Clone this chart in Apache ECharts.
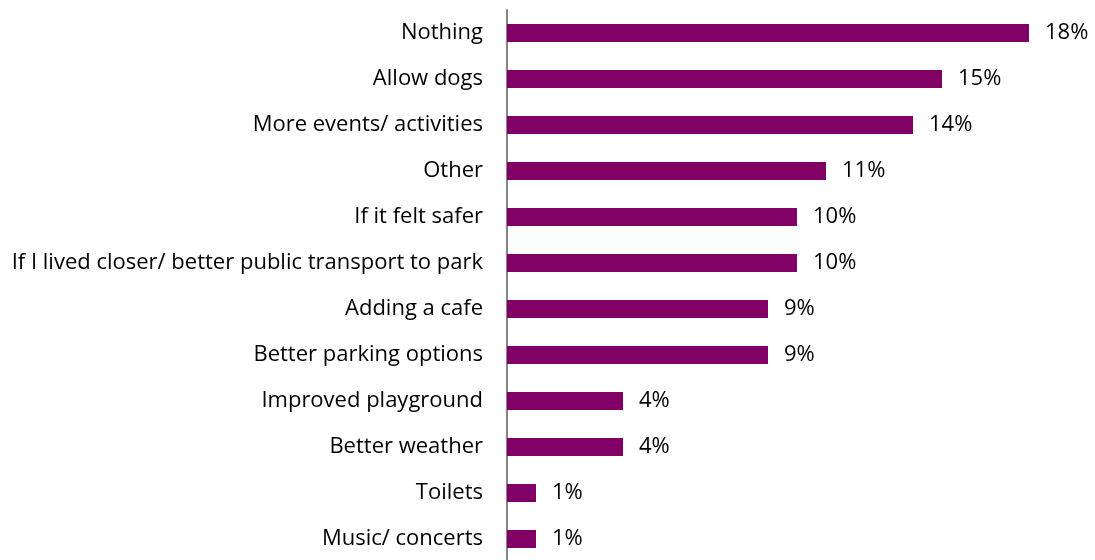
<!DOCTYPE html>
<html>
<head>
<meta charset="utf-8">
<script src="https://cdn.jsdelivr.net/npm/echarts@6/dist/echarts.min.js"></script>
<style>
  html, body { margin: 0; padding: 0; background: #fff; overflow: hidden; }
  #chart { width: 1095px; height: 566px; }
</style>
</head>
<body>
<div id="chart"></div>
<script>
// Reasons that would encourage more park visits (share of respondents, %)
const categories = [
  'Nothing',
  'Allow dogs',
  'More events/ activities',
  'Other',
  'If it felt safer',
  'If I lived closer/ better public transport to park',
  'Adding a cafe',
  'Better parking options',
  'Improved playground',
  'Better weather',
  'Toilets',
  'Music/ concerts'
];
const shares = [18, 15, 14, 11, 10, 10, 9, 9, 4, 4, 1, 1];

const FONT = '"Open Sans", sans-serif';

const chart = echarts.init(document.getElementById('chart'), null, { renderer: 'canvas' });
chart.setOption({
  animation: false,
  backgroundColor: '#ffffff',
  grid: { left: 507, top: 10, width: 580, height: 552, containLabel: false },
  xAxis: {
    type: 'value',
    min: 0,
    max: 20,
    show: false
  },
  yAxis: {
    type: 'category',
    data: categories,
    inverse: true,
    axisLine: { show: true, lineStyle: { color: '#868686', width: 2 } },
    axisTick: { show: false },
    axisLabel: {
      margin: 24,
      color: '#000000',
      fontFamily: FONT,
      fontSize: 22
    }
  },
  series: [{
    type: 'bar',
    data: shares,
    barWidth: 18,
    itemStyle: { color: '#800066' },
    label: {
      show: true,
      position: 'right',
      distance: 16,
      color: '#000000',
      fontFamily: FONT,
      fontSize: 22,
      formatter: p => p.value + '%'
    }
  }]
});
</script>
</body>
</html>
